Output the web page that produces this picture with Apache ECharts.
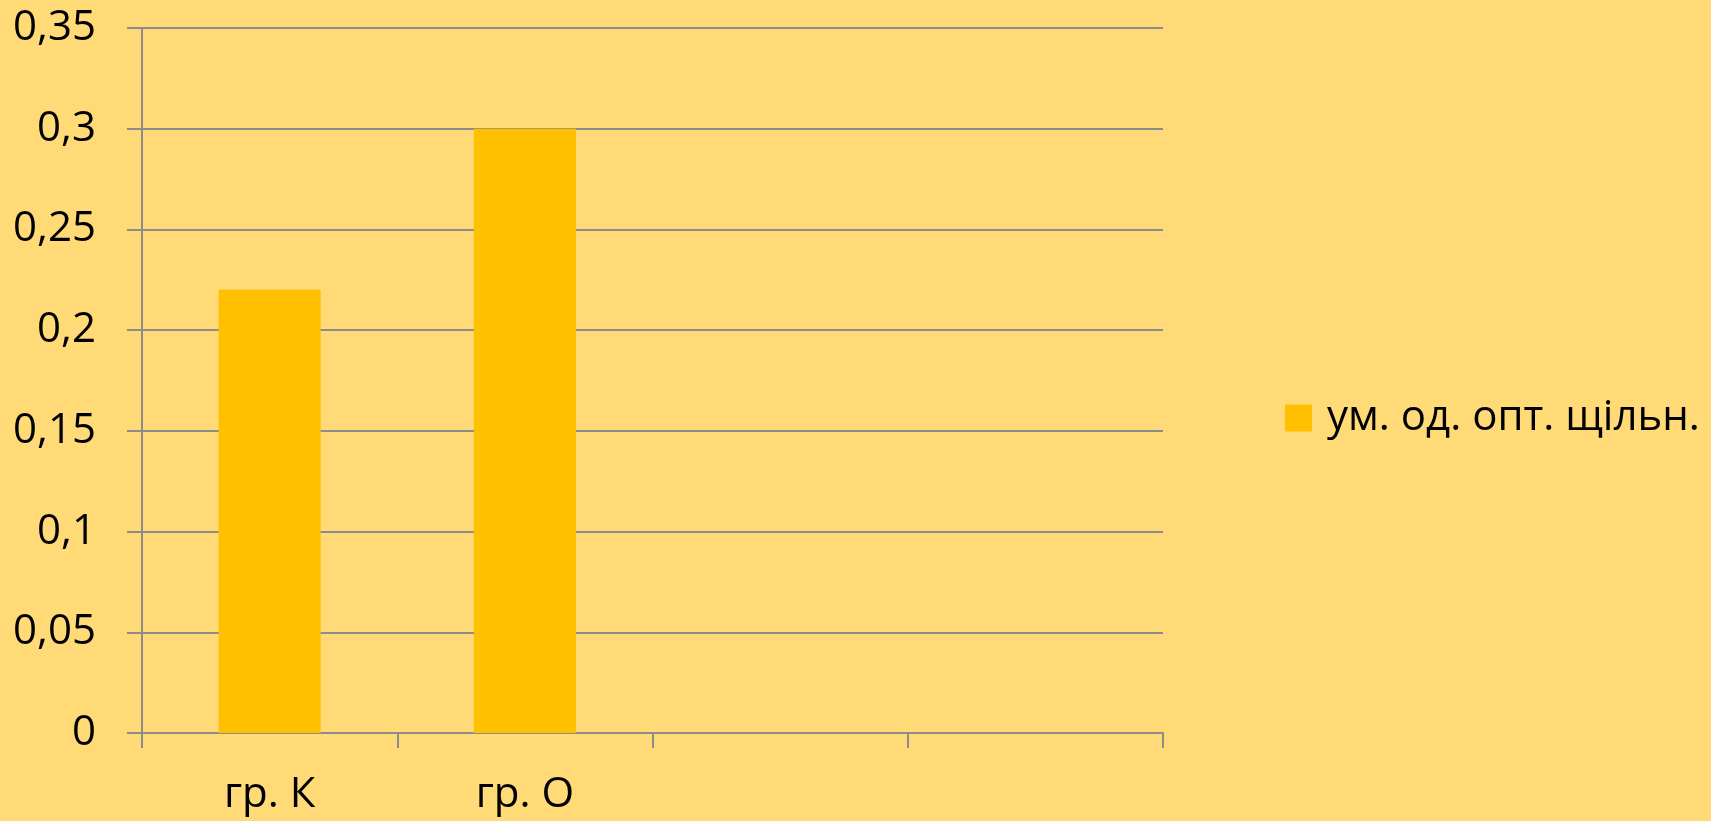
<!DOCTYPE html>
<html>
<head>
<meta charset="utf-8">
<style>
  html, body { margin: 0; padding: 0; background: #FFDA77; }
  #chart { width: 1711px; height: 821px; }
</style>
<script src="https://cdn.jsdelivr.net/npm/echarts@6/dist/echarts.min.js"></script>
</head>
<body>
<div id="chart"></div>
<script>
// Group names (the last two slots are empty)
const categories = ['гр. К', 'гр. О', '', ''];
// Optical density, conventional units
const densityValues = [0.22, 0.30, null, null];
const seriesName = 'ум. од. опт. щільн.';
// Value axis range
const yMin = 0;
const yMax = 0.35;
const yStep = 0.05;

const FONT = '"Open Sans", "Noto Sans", sans-serif';
const GRID_GRAY = '#8C8C8C';

const chart = echarts.init(document.getElementById('chart'));
chart.setOption({
  backgroundColor: '#FFDA77',
  animation: false,
  grid: { left: 142, right: 548, top: 28, bottom: 88, containLabel: false },
  legend: {
    data: [seriesName],
    left: 1280,
    top: 392,
    orient: 'vertical',
    icon: 'rect',
    itemWidth: 27,
    itemHeight: 27,
    itemGap: 10,
    textStyle: { fontFamily: FONT, fontSize: 42, color: '#000', padding: [0, 0, 0, 10] }
  },
  xAxis: {
    type: 'category',
    data: categories,
    boundaryGap: true,
    axisLine: { lineStyle: { color: GRID_GRAY, width: 2 } },
    axisTick: { show: true, alignWithLabel: false, length: 15, lineStyle: { color: GRID_GRAY, width: 2 } },
    axisLabel: { fontFamily: FONT, fontSize: 42, color: '#000', margin: 41, interval: 0 },
    splitLine: { show: false }
  },
  yAxis: {
    type: 'value',
    min: yMin,
    max: yMax,
    interval: yStep,
    axisLine: { show: true, lineStyle: { color: GRID_GRAY, width: 2 } },
    axisTick: { show: true, length: 15, lineStyle: { color: GRID_GRAY, width: 2 } },
    axisLabel: {
      fontFamily: FONT, fontSize: 42, color: '#000', margin: 46,
      formatter: v => String(Math.round(v * 100) / 100).replace('.', ',')
    },
    splitLine: { show: true, lineStyle: { color: GRID_GRAY, width: 2 } }
  },
  series: [{
    name: seriesName,
    type: 'bar',
    data: densityValues,
    barWidth: '40%',
    itemStyle: { color: '#FFC000' }
  }]
});
</script>
</body>
</html>
